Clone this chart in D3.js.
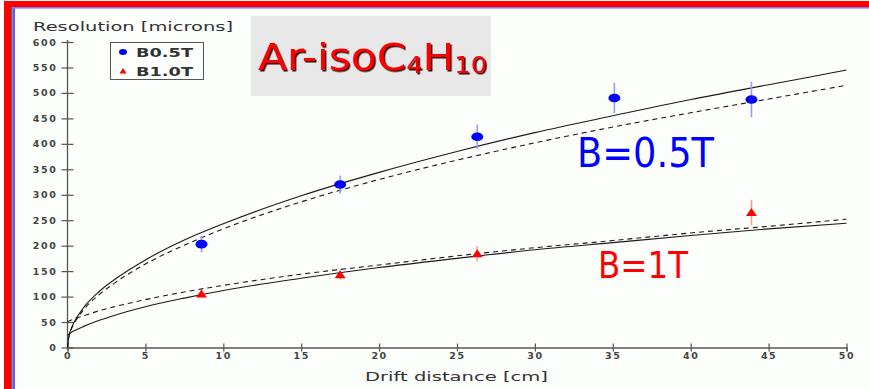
<!DOCTYPE html>
<html>
<head>
<meta charset="utf-8">
<script src="https://cdn.jsdelivr.net/npm/d3@7"></script>
<style>
  body { margin: 0; background: #fff; }
  text { font-family: "DejaVu Sans", sans-serif; }
</style>
</head>
<body>
<div id="chart"></div>
<script>
// measured points
var driftB05 = [8.6, 17.5, 26.3, 35.1, 43.9];
var resB05 = [203, 320, 414, 490, 487];
var errB05 = [16, 18, 24, 30, 35];

var driftB10 = [8.6, 17.5, 26.3, 43.9];
var resB10 = [105, 143, 184, 265];
var errB10 = [6, 10, 15, 25];

// fit curves
var fitX = [0, 0.1, 0.25, 0.5, 1, 2, 3, 5, 7.5, 10, 15, 20, 25, 30, 35, 40, 45, 50];
var fitB05Solid = [0, 24, 38, 54, 77, 109, 133, 172, 211, 243, 298, 344, 385, 422, 455, 487, 516, 545];
var fitB05Dash = [0, 23, 36, 51, 73, 103, 126, 164, 201, 233, 286, 330, 368, 402, 433, 461, 488, 515];
var fitB10Solid = [25, 26, 30, 34, 41, 53, 63, 80, 97, 112, 136, 157, 175, 192, 206, 220, 233, 244];
var fitB10Dash = [51, 52, 54, 57, 62, 72, 80, 94, 109, 122, 144, 162, 180, 196, 210, 225, 238, 252];

var xTicks = d3.range(0, 51, 5);
var yTicks = d3.range(0, 601, 50);
var legendNames = ["B0.5T", "B1.0T"];

var W = 869, H = 389;
var svg = d3.select("#chart").append("svg")
  .attr("width", W).attr("height", H);

var defs = svg.append("defs");
defs.append("filter").attr("id", "shadow")
  .attr("x", "-10%").attr("y", "-10%").attr("width", "130%").attr("height", "130%")
  .append("feDropShadow").attr("dx", 1.5).attr("dy", 1.5).attr("stdDeviation", 0.3)
  .attr("flood-color", "#300").attr("flood-opacity", 1);

// frame
svg.append("rect").attr("x", 0).attr("y", 0).attr("width", W).attr("height", H).attr("fill", "#fff");
svg.append("rect").attr("x", 13).attr("y", 7).attr("width", W - 13).attr("height", H - 7).attr("fill", "#fcfefc");
svg.append("rect").attr("x", 4).attr("y", 1).attr("width", W - 4).attr("height", 6).attr("fill", "#ff0000");
svg.append("rect").attr("x", 4).attr("y", 1).attr("width", 7).attr("height", H).attr("fill", "#ff0000");
svg.append("rect").attr("x", 11).attr("y", 7).attr("width", 1.6).attr("height", H).attr("fill", "#666");
svg.append("rect").attr("x", 12.6).attr("y", 7).attr("width", 2.4).attr("height", H).attr("fill", "#5a5aff");
svg.append("rect").attr("x", 12.6).attr("y", 7).attr("width", W).attr("height", 1.6).attr("fill", "#7a7aff");

var x = d3.scaleLinear().domain([0, 50]).range([67.5, 846.5]);
var y = d3.scaleLinear().domain([0, 600]).range([347.5, 42]);

// title box
svg.append("rect").attr("x", 251).attr("y", 16).attr("width", 240).attr("height", 80).attr("fill", "#e8e8e8");
var title = svg.append("text").attr("x", 258).attr("y", 70)
  .attr("textLength", 229).attr("lengthAdjust", "spacingAndGlyphs")
  .attr("filter", "url(#shadow)")
  .style("font-size", "38px").style("fill", "#ff0000");
title.append("tspan").text("Ar-isoC");
title.append("tspan").attr("dy", 3).style("font-size", "23px").text("4");
title.append("tspan").attr("dy", -3).text("H");
title.append("tspan").attr("dy", 3).style("font-size", "23px").text("10");

// axes
var axisColor = "#555", tickText = "#444";
var gx = svg.append("g").attr("transform", "translate(0," + y(0) + ")")
  .call(d3.axisBottom(x).tickValues(xTicks).tickSize(4).tickPadding(1).tickFormat(d3.format("d")));
gx.selectAll(".tick line").attr("y1", -4);
var gy = svg.append("g").attr("transform", "translate(" + x(0) + ",0)")
  .call(d3.axisLeft(y).tickValues(yTicks).tickSize(6).tickPadding(4).tickFormat(d3.format("d")));
gy.selectAll(".tick line").attr("x1", 6);
[gx, gy].forEach(function (g) {
  g.select(".domain").attr("stroke", axisColor).attr("stroke-width", 1.3);
  g.selectAll(".tick line").attr("stroke", axisColor).attr("stroke-width", 1.2);
  g.selectAll(".tick text").attr("fill", tickText)
    .style("font-size", "9.5px").style("font-weight", "bold").style("letter-spacing", "1.6px")
    .style("font-family", "'DejaVu Sans', sans-serif");
});
gy.select(".domain").attr("d", "M0," + y(0) + "V" + (y(600) - 2));

svg.append("text").attr("x", 33).attr("y", 31)
  .attr("textLength", 200).attr("lengthAdjust", "spacingAndGlyphs")
  .style("font-size", "11.5px").style("fill", "#333").text("Resolution [microns]");
svg.append("text").attr("x", 365).attr("y", 381)
  .attr("textLength", 183).attr("lengthAdjust", "spacingAndGlyphs")
  .style("font-size", "11.5px").style("fill", "#333").text("Drift distance [cm]");

// fit curves
var line = d3.line().curve(d3.curveMonotoneX)
  .x(function (d) { return x(d[0]); }).y(function (d) { return y(d[1]); });
[[fitB05Solid, null], [fitB05Dash, "5,4"], [fitB10Solid, null], [fitB10Dash, "5,4"]].forEach(function (c) {
  svg.append("path")
    .datum(fitX.map(function (v, i) { return [v, c[0][i]]; }))
    .attr("d", line)
    .attr("fill", "none").attr("stroke", "#1a1a1a").attr("stroke-width", 1.1)
    .attr("stroke-dasharray", c[1]);
});

// points with error bars
var ptsB05 = driftB05.map(function (v, i) { return { x: v, y: resB05[i], e: errB05[i] }; });
var ptsB10 = driftB10.map(function (v, i) { return { x: v, y: resB10[i], e: errB10[i] }; });

svg.selectAll(null).data(ptsB05).enter().append("line")
  .attr("x1", function (d) { return x(d.x); }).attr("x2", function (d) { return x(d.x); })
  .attr("y1", function (d) { return y(d.y - d.e); }).attr("y2", function (d) { return y(d.y + d.e); })
  .attr("stroke", "#9a9aff").attr("stroke-width", 1.6);
svg.selectAll(null).data(ptsB05).enter().append("ellipse")
  .attr("cx", function (d) { return x(d.x); }).attr("cy", function (d) { return y(d.y); })
  .attr("rx", 6).attr("ry", 4.3).attr("fill", "#0000ff");

svg.selectAll(null).data(ptsB10).enter().append("line")
  .attr("x1", function (d) { return x(d.x); }).attr("x2", function (d) { return x(d.x); })
  .attr("y1", function (d) { return y(d.y - d.e); }).attr("y2", function (d) { return y(d.y + d.e); })
  .attr("stroke", "#ff9a9a").attr("stroke-width", 1.6);
svg.selectAll(null).data(ptsB10).enter().append("path")
  .attr("transform", function (d) { return "translate(" + x(d.x) + "," + y(d.y) + ")"; })
  .attr("d", "M0,-4.5L5.5,3.5L-5.5,3.5Z").attr("fill", "#ff0000");

// legend
svg.append("rect").attr("x", 110.5).attr("y", 42.5).attr("width", 93).attr("height", 37)
  .attr("fill", "none").attr("stroke", "#555").attr("stroke-width", 1);
svg.append("ellipse").attr("cx", 123).attr("cy", 52).attr("rx", 4).attr("ry", 3).attr("fill", "#0000ff");
svg.append("path").attr("transform", "translate(123,71)").attr("d", "M0,-3L3.5,2.5L-3.5,2.5Z").attr("fill", "#ff0000");
svg.selectAll(null).data(legendNames).enter().append("text")
  .attr("x", 136).attr("y", function (d, i) { return 57 + i * 18.5; })
  .attr("textLength", 57).attr("lengthAdjust", "spacingAndGlyphs")
  .style("font-size", "12px").style("font-weight", "bold").style("fill", "#333")
  .text(function (d) { return d; });

// field labels
svg.append("text").attr("x", 577).attr("y", 167)
  .attr("textLength", 137).attr("lengthAdjust", "spacingAndGlyphs")
  .style("font-size", "40px").style("fill", "#0000ff").text("B=0.5T");
svg.append("text").attr("x", 598).attr("y", 278)
  .attr("textLength", 90).attr("lengthAdjust", "spacingAndGlyphs")
  .style("font-size", "38px").style("fill", "#ff0000").text("B=1T");
</script>
</body>
</html>
